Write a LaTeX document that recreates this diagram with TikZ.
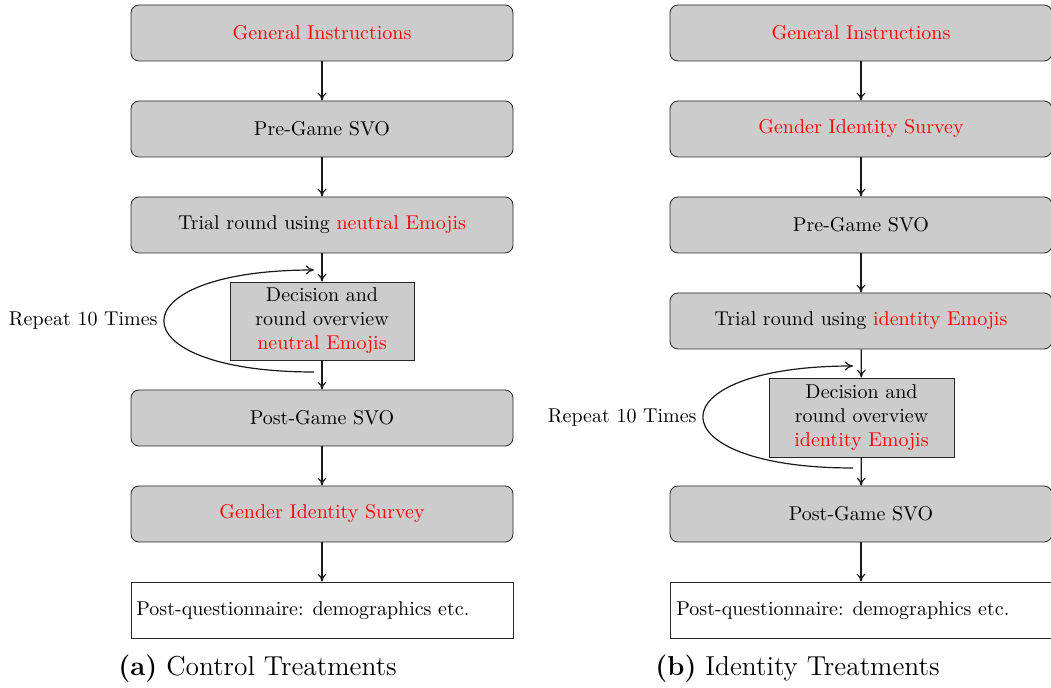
\documentclass[tikz,border=0pt]{standalone}
\usetikzlibrary{arrows.meta}
\begin{document}
\begin{tikzpicture}[x=0.5pt,y=-0.5pt,
  every node/.style={font=\fontsize{10}{12}\selectfont},
  stagebox/.style={draw=black!85, fill=gray!40, rounded corners=4pt, minimum width=191pt, minimum height=28pt, inner sep=0pt},
  loopbox/.style={draw=black!85, fill=gray!40, align=center, inner sep=0pt},
  endbox/.style={draw=black!85, fill=white, minimum width=191pt, minimum height=28pt, inner sep=0pt},
  flow/.style={-{To[length=4pt,width=4.5pt]}, black!90, line width=0.6pt},
  capt/.style={font=\fontsize{13.7}{16}\selectfont, anchor=west, inner sep=0pt}
]
\useasboundingbox (0,0) rectangle (1051,688);
% ---------- left column ----------
\node[stagebox] (L1) at (322,33) {\textcolor{red}{General Instructions}};
\node[stagebox] (L2) at (322,129) {Pre-Game SVO};
\node[stagebox] (L3) at (322,225) {Trial round using \textcolor{red}{neutral Emojis}};
\node[loopbox, minimum width=92pt, minimum height=39pt] (LD) at (322,321) {Decision and\\round overview\\\textcolor{red}{neutral Emojis}};
\node[stagebox] (L4) at (322,418) {Post-Game SVO};
\node[stagebox] (L5) at (322,514) {\textcolor{red}{Gender Identity Survey}};
\node[endbox] (L6) at (322,610) {};
\node[anchor=west, inner sep=0pt] (L6t) at (136,611) {Post-questionnaire: demographics etc.};
\draw[flow] (L1) -- (L2);
\draw[flow] (L2) -- (L3);
\draw[flow] (L3) -- (LD);
\draw[flow] (LD) -- (L4);
\draw[flow] (L4) -- (L5);
\draw[flow] (L5) -- (L6);
\coordinate (Lls) at (314,372);
\coordinate (Lle) at (314,270);
\draw[flow] (Lls) .. controls (114,372) and (114,270) .. (Lle);
\node[anchor=east, inner sep=0pt] (Lrep) at (158,321) {Repeat 10 Times};
\node[capt] (Lcap) at (118,669) {\textbf{(a)} Control Treatments};
% ---------- right column ----------
\node[stagebox] (R1) at (861,33) {\textcolor{red}{General Instructions}};
\node[stagebox] (R2) at (861,129) {\textcolor{red}{Gender Identity Survey}};
\node[stagebox] (R3) at (861,225) {Pre-Game SVO};
\node[stagebox] (R4) at (861,321) {Trial round using \textcolor{red}{identity Emojis}};
\node[loopbox, minimum width=92.5pt, minimum height=39.5pt] (RD) at (861.5,417.5) {Decision and\\round overview\\\textcolor{red}{identity Emojis}};
\node[stagebox] (R5) at (861,514) {Post-Game SVO};
\node[endbox] (R6) at (861,610) {};
\node[anchor=west, inner sep=0pt] (R6t) at (676,611) {Post-questionnaire: demographics etc.};
\draw[flow] (R1) -- (R2);
\draw[flow] (R2) -- (R3);
\draw[flow] (R3) -- (R4);
\draw[flow] (R4) -- (RD);
\draw[flow] (RD) -- (R5);
\draw[flow] (R5) -- (R6);
\coordinate (Rls) at (853,468);
\coordinate (Rle) at (853,366);
\draw[flow] (Rls) .. controls (653,468) and (653,366) .. (Rle);
\node[anchor=east, inner sep=0pt] (Rrep) at (697,418) {Repeat 10 Times};
\node[capt] (Rcap) at (655,669) {\textbf{(b)} Identity Treatments};
\end{tikzpicture}
\end{document}
